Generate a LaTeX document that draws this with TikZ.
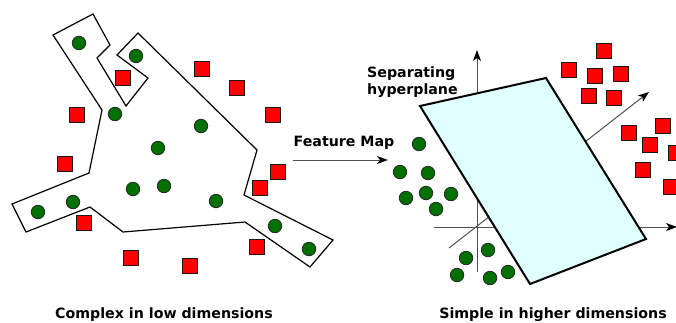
\documentclass[tikz,border=0pt]{standalone}
\usepackage{fontspec}
\setmainfont{DejaVu Sans}
\usetikzlibrary{arrows.meta}
\definecolor{dotgreen}{RGB}{0,112,0}
\definecolor{boxred}{RGB}{255,0,0}
\definecolor{planecyan}{RGB}{224,255,255}
\definecolor{axisgray}{RGB}{80,80,80}
\tikzset{
  greendot/.style={circle, fill=dotgreen, draw=black!85, line width=0.8pt, minimum size=13.5pt, inner sep=0pt},
  redbox/.style={rectangle, fill=boxred, draw=black!90, line width=1.1pt, minimum size=15pt, inner sep=0pt},
  caption/.style={font=\bfseries\fontsize{14.2}{17.5}\selectfont, inner sep=0pt},
  hull/.style={draw=black, line width=1.2pt, line join=miter},
  axisline/.style={draw=axisgray, line width=1pt, -{Stealth[black,length=11pt,width=8pt,inset=3pt]}},
  plane/.style={fill=planecyan, draw=black, line width=2pt, line join=miter},
}
\begin{document}
\begin{tikzpicture}[x=1pt,y=-1pt]
\useasboundingbox (0,0) rectangle (676,322);
\begin{scope}
\clip (0,0) rectangle (676,322);

% ---- left: points enclosed by a non-convex boundary ----
\draw[hull] (53,35) -- (93,14) -- (110,45) -- (97,58) -- (126,106) -- (148,78)
  -- (117,55) -- (138,33) -- (257,150) -- (244,195) -- (333,240) -- (310,267)
  -- (245,222) -- (123,232) -- (90,207) -- (26,232) -- (12,204) -- (89,173)
  -- (102,110) -- cycle;

\node[greendot] (g1)  at (79,43)  {};
\node[greendot] (g2)  at (136,56) {};
\node[greendot] (g3)  at (115,114) {};
\node[greendot] (g4)  at (201,126) {};
\node[greendot] (g5)  at (158,148) {};
\node[greendot] (g6)  at (133,189) {};
\node[greendot] (g7)  at (164,186) {};
\node[greendot] (g8)  at (216,201) {};
\node[greendot] (g9)  at (73,202) {};
\node[greendot] (g10) at (38,212) {};
\node[greendot] (g11) at (275,226) {};
\node[greendot] (g12) at (309,249) {};

\node[redbox] (r1)  at (202,69) {};
\node[redbox] (r2)  at (237,88) {};
\node[redbox] (r3)  at (273,115) {};
\node[redbox] (r4)  at (123,78) {};
\node[redbox] (r5)  at (77,115) {};
\node[redbox] (r6)  at (65,164) {};
\node[redbox] (r7)  at (278,172) {};
\node[redbox] (r8)  at (260,188) {};
\node[redbox] (r9)  at (84,223) {};
\node[redbox] (r10) at (131,258) {};
\node[redbox] (r11) at (190,266) {};
\node[redbox] (r12) at (257,247) {};

\node[caption] (lowcap) at (164,315) {Complex in low dimensions};

% ---- feature map arrow ----
\node[caption] (fmap) at (344,143) {Feature Map};
\coordinate (fmA) at (293,160);
\coordinate (fmB) at (388,160);
\draw[axisline] (fmA) -- (fmB);

% ---- right: 3D axes with a separating plane ----
\coordinate (origin) at (477,227);
\coordinate (zbot) at (477,272);
\coordinate (ztop) at (477,50);
\coordinate (xlft) at (434,227);
\coordinate (xrgt) at (677,227);
\coordinate (ybot) at (449,248);
\coordinate (ytop) at (649,92);
\draw[axisline] (zbot) -- (ztop);
\draw[axisline] (xlft) -- (xrgt);
\draw[axisline] (ybot) -- (ytop);

\draw[plane] (420,106) -- (546,78) -- (646,239) -- (530,284) -- cycle;

\node[caption, anchor=west, align=left] (sepcap) at (367,82) {Separating\\hyperplane};

\node[greendot] (h1)  at (419,144) {};
\node[greendot] (h2)  at (400,172) {};
\node[greendot] (h3)  at (428,173) {};
\node[greendot] (h4)  at (406,198) {};
\node[greendot] (h5)  at (426,193) {};
\node[greendot] (h6)  at (451,194) {};
\node[greendot] (h7)  at (436,209) {};
\node[greendot] (h8)  at (488,250) {};
\node[greendot] (h9)  at (466,258) {};
\node[greendot] (h10) at (457,275) {};
\node[greendot] (h11) at (490,278) {};
\node[greendot] (h12) at (508,272) {};

\node[redbox] (s1)  at (604,51) {};
\node[redbox] (s2)  at (569,70) {};
\node[redbox] (s3)  at (595,76) {};
\node[redbox] (s4)  at (621,74) {};
\node[redbox] (s5)  at (589,96) {};
\node[redbox] (s6)  at (614,98) {};
\node[redbox] (s7)  at (629,133) {};
\node[redbox] (s8)  at (663,126) {};
\node[redbox] (s9)  at (650,145) {};
\node[redbox] (s10) at (676,153) {};
\node[redbox] (s11) at (643,170) {};
\node[redbox] (s12) at (671,187) {};

\node[caption] (highcap) at (553,315) {Simple in higher dimensions};
\end{scope}
\end{tikzpicture}
\end{document}
